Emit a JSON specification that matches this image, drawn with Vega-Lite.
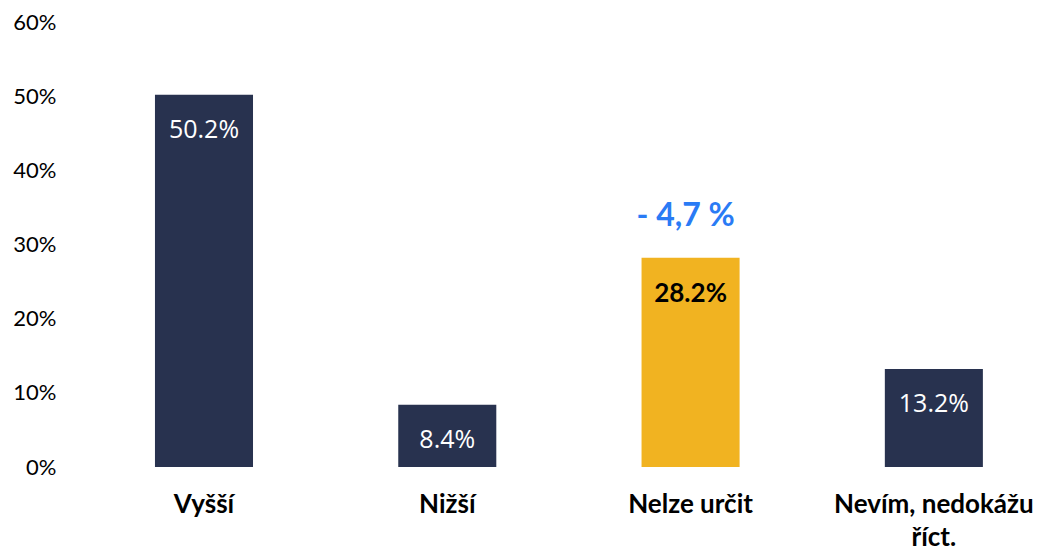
{
  "$schema": "https://vega.github.io/schema/vega-lite/v6.json",
  "width": 970,
  "height": 445,
  "autosize": {"type": "none"},
  "padding": {"left": 70, "top": 22, "right": 2, "bottom": 83},
  "background": "white",
  "config": {"view": {"stroke": null}},
  "data": {
    "values": [
      {"kategorie": "Vyšší", "podil": 0.502, "barva": "navy", "zmena": ""},
      {"kategorie": "Nižší", "podil": 0.084, "barva": "navy", "zmena": ""},
      {"kategorie": "Nelze určit", "podil": 0.282, "barva": "yellow", "zmena": "- 4,7 %"},
      {"kategorie": "Nevím, nedokážu říct.", "podil": 0.132, "barva": "navy", "zmena": ""}
    ]
  },
  "encoding": {
    "x": {
      "field": "kategorie",
      "type": "nominal",
      "sort": null,
      "scale": {"paddingInner": 0.597, "paddingOuter": 0.292, "align": 0.598},
      "axis": {
        "title": null,
        "domain": false,
        "ticks": false,
        "labelAngle": 0,
        "labelFont": "Lato",
        "labelFontWeight": "bold",
        "labelFontSize": 26,
        "labelColor": "#000000",
        "labelPadding": 37,
        "labelBaseline": "middle",
        "labelLineHeight": 33,
        "labelLimit": 0,
        "labelExpr": "datum.label == 'Nevím, nedokážu říct.' ? ['Nevím, nedokážu', 'říct.'] : datum.label"
      }
    },
    "y": {
      "field": "podil",
      "type": "quantitative",
      "scale": {"domain": [0, 0.6], "nice": false},
      "axis": {
        "title": null,
        "domain": false,
        "ticks": false,
        "grid": false,
        "values": [0, 0.1, 0.2, 0.3, 0.4, 0.5, 0.6],
        "format": ".0%",
        "labelFont": "Lato",
        "labelFontSize": 22,
        "labelColor": "#000000",
        "labelPadding": 14
      }
    }
  },
  "layer": [
    {
      "mark": {"type": "bar"},
      "encoding": {
        "color": {
          "field": "barva",
          "type": "nominal",
          "scale": {"domain": ["navy", "yellow"], "range": ["#28324f", "#f1b321"]},
          "legend": null
        }
      }
    },
    {
      "transform": [{"filter": "datum.barva == 'navy'"}],
      "mark": {"type": "text", "baseline": "middle", "dy": 35, "font": "Open Sans", "fontSize": 25, "color": "#ffffff"},
      "encoding": {"text": {"field": "podil", "type": "quantitative", "format": ".1%"}}
    },
    {
      "transform": [{"filter": "datum.barva == 'yellow'"}],
      "mark": {"type": "text", "baseline": "middle", "dy": 36, "font": "Lato", "fontWeight": "bold", "fontSize": 26, "color": "#000000"},
      "encoding": {"text": {"field": "podil", "type": "quantitative", "format": ".1%"}}
    },
    {
      "transform": [{"filter": "datum.zmena != ''"}],
      "mark": {"type": "text", "baseline": "middle", "dx": -5, "dy": -42, "font": "Lato", "fontWeight": "bold", "fontSize": 32, "color": "#2a7bf5"},
      "encoding": {"text": {"field": "zmena", "type": "nominal"}}
    }
  ]
}
